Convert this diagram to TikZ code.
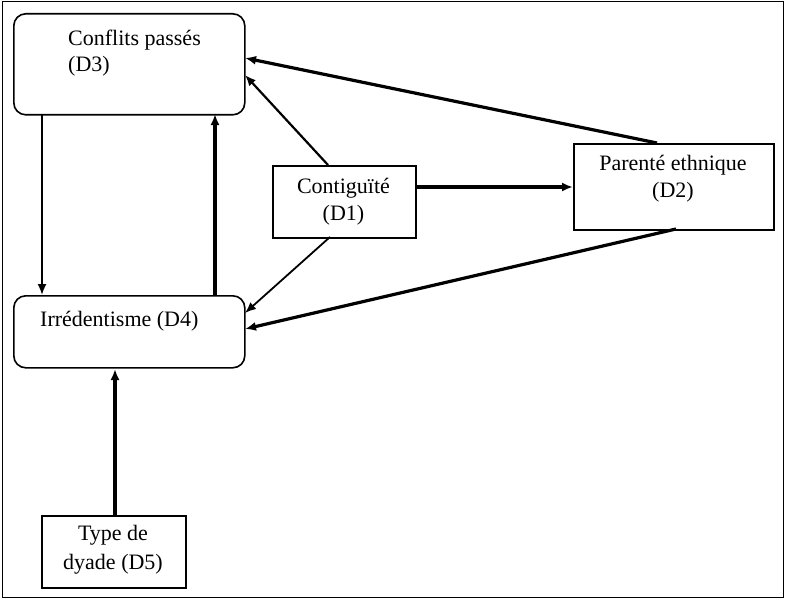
\documentclass[tikz,border=0pt]{standalone}
\usepackage{fontspec}
\setmainfont{Liberation Serif}
\usetikzlibrary{arrows.meta}
\begin{document}
\begin{tikzpicture}[x=1pt,y=-1pt,
  rbox/.style={draw,rounded corners=12pt,line width=1.6pt,minimum width=231pt,anchor=north west,inner sep=0pt},
  sbox/.style={draw,line width=2.2pt,anchor=north west,inner sep=0pt,align=center},
  lbl/.style={font=\fontsize{22}{26}\selectfont,anchor=base west,inner sep=0pt},
  thin/.style={line width=1.8pt,-{Latex[length=11pt,width=9pt]}},
  thick/.style={line width=3.2pt,-{Latex[length=11pt,width=9pt]}}]
\useasboundingbox (0,0) rectangle (786,599);
\draw[line width=1pt] (2,2) rectangle (783,597);
% boxes
\node[rbox,minimum height=101pt] (d3) at (13,13) {};
\node[rbox,minimum height=72pt] (d4) at (13,295) {};
\node[sbox,minimum width=143pt,minimum height=72pt] (d1) at (272,165) {};
\node[sbox,minimum width=200pt,minimum height=86pt] (d2) at (573,143) {};
\node[sbox,minimum width=144pt,minimum height=72pt] (d5) at (41,515) {};
% texts
\node[lbl] (t3a) at (68,46) {Conflits passés};
\node[lbl] (t3b) at (68,72) {(D3)};
\node[lbl] (t4) at (40,326) {Irrédentisme (D4)};
\node[lbl,anchor=base] (t1a) at (343.5,193) {Contiguïté};
\node[lbl,anchor=base] (t1b) at (343.5,220) {(D1)};
\node[lbl,anchor=base] (t2a) at (673,170) {Parenté ethnique};
\node[lbl,anchor=base] (t2b) at (673,197) {(D2)};
\node[lbl,anchor=base] (t5a) at (113,540) {Type de};
\node[lbl,anchor=base] (t5b) at (113,569) {dyade (D5)};
% connector endpoints
\coordinate (d3b1) at (42,114);
\coordinate (d4t1) at (42,295);
\coordinate (d4t2) at (215,295);
\coordinate (d3b2) at (215,114);
\coordinate (d3r1) at (245,58);
\coordinate (d3r2) at (245,75);
\coordinate (d4r1) at (245,313);
\coordinate (d4r2) at (245,329);
\coordinate (d1t) at (328,165);
\coordinate (d1b) at (330,237);
\coordinate (d1r) at (415,187);
\coordinate (d2l) at (573,187);
\coordinate (d2t) at (657,143);
\coordinate (d2b) at (676,229);
\coordinate (d5t) at (115,515);
\coordinate (d4b) at (115,369);
% connectors
\draw[thin] (d3b1) -- (d4t1);
\draw[thick] (d4t2) -- (d3b2);
\draw[thin,line width=2.2pt] (d1t) -- (d3r2);
\draw[thick] (d2t) -- (d3r1);
\draw[thick] (d1r) -- (d2l);
\draw[thin] (d1b) -- (d4r1);
\draw[thick] (d2b) -- (d4r2);
\draw[thick] (d5t) -- (d4b);
\end{tikzpicture}
\end{document}
